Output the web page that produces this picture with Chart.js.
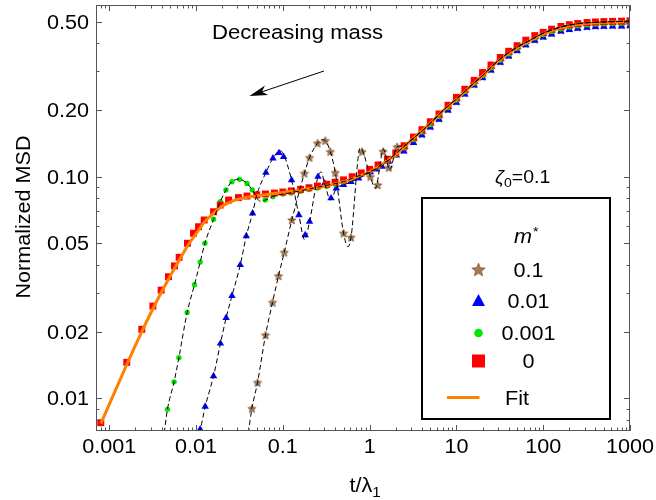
<!DOCTYPE html>
<html>
<head>
<meta charset="utf-8">
<script src="https://cdn.jsdelivr.net/npm/chart.js"></script>
<style>
  html, body { margin: 0; padding: 0; background: #fff; }
  canvas { display: block; }
</style>
</head>
<body>
<canvas id="msd" width="656" height="500"></canvas>
<script>
// m* = 0.1 (stars)
const tStar = [0.044, 0.0511, 0.0631, 0.076, 0.0891, 0.1038, 0.127, 0.177, 0.203, 0.251, 0.308, 0.352, 0.402, 0.501, 0.61, 0.817, 1.02, 1.24, 1.43, 1.66, 2.07, 2.5, 3.2, 4, 5, 6.3, 8, 10, 12.5, 16, 20, 25, 32, 40, 50, 63, 80, 100, 125, 160, 200, 250, 320, 400, 500, 630, 800, 1000];
const msdStar = [0.00901, 0.0118, 0.0193, 0.0271, 0.0357, 0.0456, 0.0638, 0.1036, 0.122, 0.1416, 0.1454, 0.1297, 0.1043, 0.0556, 0.0533, 0.1297, 0.100, 0.0918, 0.130, 0.110, 0.1365, 0.133, 0.145, 0.156, 0.17, 0.184, 0.202, 0.219, 0.239, 0.262, 0.283, 0.306, 0.332, 0.354, 0.375, 0.398, 0.417, 0.432, 0.446, 0.459, 0.468, 0.473, 0.478, 0.481, 0.483, 0.484, 0.485, 0.486];

// m* = 0.01 (triangles)
const tBlue = [0.01115, 0.01274, 0.0159, 0.0191, 0.0222, 0.0259, 0.0323, 0.0379, 0.0448, 0.050, 0.0638, 0.0769, 0.0902, 0.102, 0.126, 0.153, 0.181, 0.203, 0.254, 0.303, 0.359, 0.413, 0.501, 0.61, 0.746, 1.02, 1.19, 1.39, 1.66, 2.03, 2.47, 3.2, 4, 5, 6.3, 8, 10, 12.5, 16, 20, 25, 32, 40, 50, 63, 80, 100, 125, 160, 200, 250, 320, 400, 500, 630, 800, 1000];
const msdBlue = [0.00726, 0.00918, 0.01262, 0.0177, 0.0231, 0.029, 0.04, 0.054, 0.0684, 0.0827, 0.1043, 0.121, 0.128, 0.123, 0.0966, 0.0672, 0.0546, 0.0627, 0.1, 0.0933, 0.08, 0.0887, 0.0918, 0.0949, 0.0984, 0.105, 0.108, 0.111, 0.117, 0.125, 0.13, 0.142, 0.154, 0.167, 0.181, 0.199, 0.216, 0.235, 0.258, 0.279, 0.302, 0.327, 0.349, 0.37, 0.392, 0.411, 0.425, 0.439, 0.452, 0.46, 0.466, 0.471, 0.474, 0.476, 0.477, 0.477, 0.479];

// m* = 0.001 (dots)
const tGreen = [0.00468, 0.00558, 0.00634, 0.00789, 0.00959, 0.01115, 0.01264, 0.0159, 0.019, 0.0221, 0.0259, 0.0317, 0.0386, 0.0444, 0.0627, 0.0769, 0.1, 0.125, 0.16, 0.2, 0.25, 0.32, 0.4, 0.5, 0.63, 0.8, 1, 1.25, 1.6, 2, 2.5, 3.2, 4, 5, 6.3, 8, 10, 12.5, 16, 20, 25, 32, 40, 50, 63, 80, 100, 125, 160, 200, 250, 320, 400, 500, 630, 800, 1000];
const msdGreen = [0.00893, 0.01188, 0.01527, 0.0244, 0.0326, 0.0412, 0.0501, 0.0643, 0.0771, 0.0871, 0.0949, 0.0973, 0.0933, 0.0871, 0.0785, 0.0813, 0.0835, 0.0845, 0.086, 0.0875, 0.089, 0.0905, 0.0925, 0.095, 0.098, 0.102, 0.106, 0.111, 0.118, 0.126, 0.135, 0.147, 0.159, 0.172, 0.187, 0.205, 0.222, 0.242, 0.265, 0.287, 0.31, 0.336, 0.358, 0.38, 0.403, 0.423, 0.438, 0.452, 0.465, 0.474, 0.48, 0.485, 0.488, 0.49, 0.491, 0.492, 0.494];

// m* = 0 (squares)
const tRed = [0.000798, 0.00159, 0.00237, 0.00318, 0.00396, 0.00481, 0.00564, 0.00638, 0.00796, 0.00934, 0.01067, 0.0124, 0.0159, 0.019, 0.0237, 0.0308, 0.0386, 0.05, 0.063, 0.08, 0.1, 0.125, 0.16, 0.2, 0.25, 0.32, 0.4, 0.5, 0.63, 0.8, 1, 1.25, 1.6, 2, 2.5, 3.2, 4, 5, 6.3, 8, 10, 12.5, 16, 20, 25, 32, 40, 50, 63, 80, 100, 125, 160, 200, 250, 320, 400, 500, 630, 800, 1000];
const msdRed = [0.00777, 0.01455, 0.0205, 0.0261, 0.0308, 0.0354, 0.0396, 0.0433, 0.0501, 0.0556, 0.0595, 0.0638, 0.0695, 0.0745, 0.0785, 0.0805, 0.0818, 0.0828, 0.0836, 0.0844, 0.0853, 0.0863, 0.0877, 0.0892, 0.0908, 0.0925, 0.0945, 0.0968, 0.1, 0.104, 0.108, 0.113, 0.12, 0.128, 0.138, 0.151, 0.163, 0.177, 0.192, 0.21, 0.228, 0.248, 0.272, 0.295, 0.319, 0.345, 0.368, 0.39, 0.413, 0.433, 0.448, 0.463, 0.476, 0.485, 0.491, 0.496, 0.499, 0.501, 0.502, 0.503, 0.505];

// orange fit
const tFit = [0.0008, 0.0016, 0.0024, 0.0032, 0.004, 0.005, 0.0064, 0.008, 0.01, 0.0125, 0.016, 0.02, 0.025, 0.03, 0.04, 0.06, 0.1, 0.2, 0.3, 0.5, 0.7, 1, 1.5, 2, 3, 5, 7, 10, 15, 20, 30, 50, 70, 100, 150, 200, 300, 500, 1000];
const msdFit = [0.0077, 0.0143, 0.0202, 0.0255, 0.0302, 0.0355, 0.042, 0.0488, 0.0553, 0.0625, 0.0685, 0.0735, 0.077, 0.079, 0.081, 0.0828, 0.085, 0.0882, 0.0905, 0.095, 0.0995, 0.105, 0.116, 0.126, 0.146, 0.174, 0.198, 0.223, 0.258, 0.285, 0.331, 0.382, 0.41, 0.441, 0.467, 0.48, 0.491, 0.497, 0.501];

// black dashed curves (each one's own early part + common long-time tail)
const tDashStar = [0.04, 0.044, 0.0511, 0.0631, 0.076, 0.0891, 0.1038, 0.127, 0.177, 0.203, 0.251, 0.28, 0.308, 0.352, 0.402, 0.501, 0.563, 0.61, 0.78, 1.02, 1.16, 1.45, 1.7, 2.07, 2.5];
const msdDashStar = [0.007, 0.00901, 0.0118, 0.0193, 0.0271, 0.0357, 0.0456, 0.0638, 0.1036, 0.122, 0.1416, 0.147, 0.1454, 0.1297, 0.1043, 0.0556, 0.0483, 0.0533, 0.135, 0.1, 0.0887, 0.133, 0.107, 0.1365, 0.138];
const tDashBlue = [0.0106, 0.01115, 0.01274, 0.0159, 0.0191, 0.0222, 0.0259, 0.0323, 0.0379, 0.0448, 0.05, 0.0638, 0.0769, 0.093, 0.102, 0.126, 0.153, 0.178, 0.203, 0.254, 0.275, 0.303, 0.355, 0.413, 0.501, 0.61, 0.746, 1.02, 1.39, 2];
const msdDashBlue = [0.007, 0.00726, 0.00918, 0.01262, 0.0177, 0.0231, 0.029, 0.04, 0.054, 0.0684, 0.0827, 0.1043, 0.121, 0.131, 0.126, 0.0966, 0.0672, 0.052, 0.0627, 0.1, 0.105, 0.0933, 0.0785, 0.0887, 0.0918, 0.0949, 0.0984, 0.105, 0.112, 0.127];
const tDashGreen = [0.0043, 0.00468, 0.00558, 0.00634, 0.00789, 0.00959, 0.01115, 0.01264, 0.0159, 0.019, 0.0221, 0.0259, 0.031, 0.0386, 0.0444, 0.055, 0.0627, 0.08, 0.12, 0.2, 0.3, 0.5, 0.7, 1, 1.5, 2];
const msdDashGreen = [0.007, 0.00893, 0.01188, 0.01527, 0.0244, 0.0326, 0.0412, 0.0501, 0.0643, 0.0771, 0.0871, 0.0949, 0.0975, 0.0933, 0.0871, 0.0775, 0.0785, 0.082, 0.0845, 0.088, 0.091, 0.095, 0.1, 0.105, 0.116, 0.127];
const tTail = [3, 5, 7, 10, 15, 20, 30, 50, 70, 100, 150, 200, 300, 500, 1000];
const msdTail = [0.146, 0.174, 0.199, 0.224, 0.259, 0.286, 0.333, 0.384, 0.412, 0.444, 0.47, 0.483, 0.494, 0.499, 0.503];

// ticks
const xMajor = [0.001, 0.01, 0.1, 1, 10, 100, 1000];
const xLabels = ['0.001', '0.01', '0.1', '1', '10', '100', '1000'];
const yMajor = [0.01, 0.02, 0.05, 0.1, 0.2, 0.5];
const yLabels = ['0.01', '0.02', '0.05', '0.10', '0.20', '0.50'];
const yMinor = [0.008, 0.009, 0.03, 0.04, 0.06, 0.07, 0.08, 0.09, 0.3, 0.4];

const legendLabels = ['0.1', '0.01', '0.001', '0'];

const FONT = '20px "Liberation Sans", Arial, sans-serif';
const SX = 1.08;
const FRAME = '#555';
const STAR_FILL = '#a47a52', STAR_EDGE = '#7a5533';

function pts(ts, ys) { return ts.map((t, i) => ({ x: t, y: ys[i] })); }

function starCanvas(r) {
  const c = document.createElement('canvas');
  const s = Math.ceil(2 * r + 3);
  c.width = c.height = s;
  const g = c.getContext('2d');
  g.translate(s / 2, s / 2 + r * 0.1);
  g.beginPath();
  for (let i = 0; i < 10; i++) {
    const a = -Math.PI / 2 + i * Math.PI / 5;
    const rr = i % 2 ? r * 0.45 : r;
    g.lineTo(rr * Math.cos(a), rr * Math.sin(a));
  }
  g.closePath();
  g.fillStyle = STAR_FILL; g.fill();
  g.strokeStyle = STAR_EDGE; g.lineWidth = 0.7; g.stroke();
  return c;
}
const starSmall = starCanvas(4.4);
const starBig = starCanvas(7);

function text(ctx, s, x, y, font, align, rot) {
  ctx.save();
  ctx.font = font || FONT;
  ctx.fillStyle = '#000';
  ctx.textAlign = align || 'left';
  ctx.textBaseline = 'alphabetic';
  ctx.translate(x, y);
  if (rot) ctx.rotate(rot);
  ctx.scale(SX, 1);
  ctx.fillText(s, 0, 0);
  ctx.restore();
}
function width(ctx, s, font) { ctx.save(); ctx.font = font; const w = ctx.measureText(s).width * SX; ctx.restore(); return w; }

function dashed(ts, ys) {
  return { data: pts(ts, ys), borderColor: '#000', borderWidth: 1, borderDash: [5, 3], pointRadius: 0, cubicInterpolationMode: 'monotone', fill: false, clip: 0 };
}
function markers(ts, ys, style, radius, color) {
  return { data: pts(ts, ys), showLine: false, pointStyle: style, pointRadius: radius, pointBackgroundColor: color, pointBorderWidth: 0, pointBorderColor: color, clip: 0 };
}

const decor = {
  id: 'decor',
  afterDraw(chart) {
    const ctx = chart.ctx, ca = chart.chartArea;
    const xs = chart.scales.x, ys = chart.scales.y;
    ctx.save();
    // frame
    ctx.strokeStyle = FRAME; ctx.lineWidth = 1;
    ctx.strokeRect(ca.left + 0.5, ca.top + 0.5, ca.right - ca.left - 1, ca.bottom - ca.top - 1);
    // x ticks (top and bottom, inward)
    const tickX = (v, len) => {
      const px = Math.round(xs.getPixelForValue(v)) + 0.5;
      ctx.beginPath();
      ctx.moveTo(px, ca.bottom); ctx.lineTo(px, ca.bottom - len);
      ctx.moveTo(px, ca.top); ctx.lineTo(px, ca.top + len);
      ctx.stroke();
    };
    const tickY = (v, len) => {
      const py = Math.round(ys.getPixelForValue(v)) + 0.5;
      ctx.beginPath();
      ctx.moveTo(ca.left, py); ctx.lineTo(ca.left + len, py);
      ctx.moveTo(ca.right, py); ctx.lineTo(ca.right - len, py);
      ctx.stroke();
    };
    xMajor.forEach(v => {
      tickX(v, 6);
      for (let k = 2; k <= 9; k++) if (v * k <= 1000) tickX(v * k, 3.5);
    });
    tickX(0.0008, 3.5); tickX(0.0009, 3.5);
    yMajor.forEach(v => tickY(v, 6));
    yMinor.forEach(v => tickY(v, 3.5));
    // tick labels
    xMajor.forEach((v, i) => text(ctx, xLabels[i], xs.getPixelForValue(v), 453, FONT, 'center'));
    yMajor.forEach((v, i) => text(ctx, yLabels[i], 89, ys.getPixelForValue(v) + 7, FONT, 'right'));
    // axis titles
    text(ctx, 'Normalized MSD', 30, 217, FONT, 'center', -Math.PI / 2);
    const sub = '14px "Liberation Sans", Arial, sans-serif';
    const w1 = width(ctx, 't/\u03bb', FONT), w2 = width(ctx, '1', sub);
    const x0 = 365 - (w1 + w2) / 2;
    text(ctx, 't/\u03bb', x0, 492, FONT);
    text(ctx, '1', x0 + w1, 497, sub);
    // annotation
    text(ctx, 'Decreasing mass', 212, 39, '20.5px "Liberation Sans", Arial, sans-serif');
    ctx.strokeStyle = '#000'; ctx.fillStyle = '#000'; ctx.lineWidth = 1;
    const ax1 = 324, ay1 = 71, ax2 = 249.5, ay2 = 96;
    const ang = Math.atan2(ay2 - ay1, ax2 - ax1);
    ctx.beginPath(); ctx.moveTo(ax1, ay1); ctx.lineTo(ax2 - 12 * Math.cos(ang), ay2 - 12 * Math.sin(ang)); ctx.stroke();
    ctx.beginPath();
    ctx.moveTo(ax2, ay2);
    ctx.lineTo(ax2 - 18 * Math.cos(ang) + 5 * Math.sin(ang), ay2 - 18 * Math.sin(ang) - 5 * Math.cos(ang));
    ctx.lineTo(ax2 - 13 * Math.cos(ang), ay2 - 13 * Math.sin(ang));
    ctx.lineTo(ax2 - 18 * Math.cos(ang) - 5 * Math.sin(ang), ay2 - 18 * Math.sin(ang) + 5 * Math.cos(ang));
    ctx.closePath(); ctx.fill();
    // zeta label
    const f18 = '18px "Liberation Sans", Arial, sans-serif';
    const f18i = 'italic 18px "Liberation Sans", Arial, sans-serif';
    const f13 = '13px "Liberation Sans", Arial, sans-serif';
    let zx = 495;
    text(ctx, '\u03b6', zx, 183, f18i); zx += width(ctx, '\u03b6', f18i);
    text(ctx, '0', zx, 187, f13); zx += width(ctx, '0', f13);
    text(ctx, '=0.1', zx, 183, f18);
    // legend box
    ctx.fillStyle = '#fff';
    ctx.fillRect(422, 198, 188, 221);
    ctx.strokeStyle = '#000'; ctx.lineWidth = 2;
    ctx.strokeRect(422, 198, 188, 221);
    const fmi = 'italic 20px "Liberation Sans", Arial, sans-serif';
    text(ctx, 'm', 514, 243, fmi);
    text(ctx, '*', 514 + width(ctx, 'm', fmi) + 1, 236, f13);
    const mx = 478.5, rows = [269.5, 301, 333, 361];
    ctx.drawImage(starBig, mx - starBig.width / 2, rows[0] - starBig.height / 2);
    ctx.fillStyle = '#0000ff';
    ctx.beginPath(); ctx.moveTo(mx, rows[1] - 7); ctx.lineTo(mx + 6.5, rows[1] + 5); ctx.lineTo(mx - 6.5, rows[1] + 5); ctx.closePath(); ctx.fill();
    ctx.fillStyle = '#00e600';
    ctx.beginPath(); ctx.arc(mx, rows[2], 4.3, 0, Math.PI * 2); ctx.fill();
    ctx.fillStyle = '#ff0000';
    ctx.fillRect(mx - 6.5, rows[3] - 6.5, 13, 13);
    legendLabels.forEach((s, i) => text(ctx, s, 528.5, rows[i] + 7, FONT, 'center'));
    ctx.strokeStyle = '#ff8000'; ctx.lineWidth = 3;
    ctx.beginPath(); ctx.moveTo(447, 397.5); ctx.lineTo(479.5, 397.5); ctx.stroke();
    text(ctx, 'Fit', 517, 405, FONT, 'center');
    ctx.restore();
  }
};

new Chart(document.getElementById('msd'), {
  type: 'line',
  data: {
    datasets: [
      dashed(tDashStar.concat(tTail), msdDashStar.concat(msdTail)),
      dashed(tDashBlue.concat(tTail), msdDashBlue.concat(msdTail)),
      dashed(tDashGreen.concat(tTail), msdDashGreen.concat(msdTail)),
      { data: pts(tFit, msdFit), borderColor: '#ff8000', borderWidth: 3, pointRadius: 0, cubicInterpolationMode: 'monotone', fill: false, clip: 0 },
      markers(tRed, msdRed, 'rect', 4.9, '#ff0000'),
      markers(tGreen, msdGreen, 'circle', 2.7, '#00e600'),
      markers(tBlue, msdBlue, 'triangle', 4.3, '#0000ff'),
      markers(tStar, msdStar, starSmall, 4.4, STAR_FILL)
    ]
  },
  options: {
    responsive: false,
    animation: false,
    layout: { padding: { left: 96, right: 26, top: 5, bottom: 69 } },
    plugins: { legend: { display: false }, tooltip: { enabled: false } },
    scales: {
      x: { type: 'logarithmic', min: 0.000703, max: 1000, display: false },
      y: { type: 'logarithmic', min: 0.00713, max: 0.595, display: false }
    }
  },
  plugins: [decor]
});
</script>
</body>
</html>
